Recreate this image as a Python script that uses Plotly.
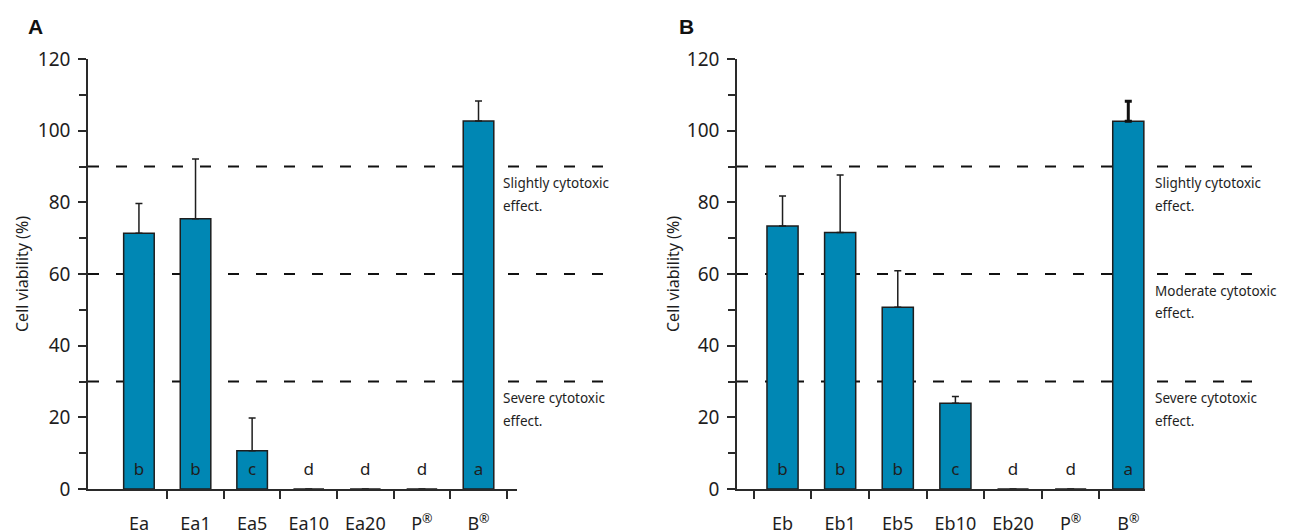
import plotly.graph_objects as go

# ---------------- data ----------------
cats_a = ["Ea", "Ea1", "Ea5", "Ea10", "Ea20", "P<sup>®</sup>", "B<sup>®</sup>"]
vals_a = [71.4, 75.4, 10.7, 0, 0, 0, 102.7]
err_a = [8.3, 16.7, 9.1, 0, 0, 0, 5.6]
letters_a = ["b", "b", "c", "d", "d", "d", "a"]

cats_b = ["Eb", "Eb1", "Eb5", "Eb10", "Eb20", "P<sup>®</sup>", "B<sup>®</sup>"]
vals_b = [73.4, 71.6, 50.7, 23.9, 0, 0, 102.6]
err_b = [8.4, 16.0, 10.2, 1.9, 0, 0, 5.6]
letters_b = ["b", "b", "b", "c", "d", "d", "a"]

levels_a = [90, 60, 30]
labels_a = [["Slightly cytotoxic", "effect."], None, ["Severe cytotoxic", "effect."]]
levels_b = [90, 60, 30]
labels_b = [["Slightly cytotoxic", "effect."], ["Moderate cytotoxic", "effect."],
            ["Severe cytotoxic", "effect."]]

# ---------------- style ----------------
W, H = 1295, 532
OFF = 8  # page body margin
BAR = "#0087b4"
DARK = "#1e1e1e"
AXC = "#2a2a2a"
FONT = "Noto Sans"

def px(x):
    return (x - OFF) / W

def py(y):
    return (H - (y - OFF)) / H

ydom = [py(489), py(59)]

fig = go.Figure()

def add_panel(cats, vals, errs, letters, xa, ya, thick_last=False):
    xs = list(range(len(cats)))
    errs_main = list(errs)
    if thick_last:
        errs_main[-1] = 0
    fig.add_trace(go.Bar(
        x=xs, y=vals, width=0.54, xaxis=xa, yaxis=ya,
        marker=dict(color=BAR, line=dict(color=DARK, width=1.5)),
        error_y=dict(type="data", array=errs_main, arrayminus=[0] * len(errs),
                     symmetric=False, color=DARK, thickness=1.5, width=3.5,
                     visible=True),
        showlegend=False, hoverinfo="skip",
    ))
    if thick_last:
        fig.add_trace(go.Scatter(
            x=[xs[-1]], y=[vals[-1]], mode="markers", xaxis=xa, yaxis=ya,
            marker=dict(size=1, color=BAR, opacity=0),
            error_y=dict(type="data", array=[errs[-1]], arrayminus=[0],
                         symmetric=False, color="#111", thickness=3, width=3.5),
            showlegend=False, hoverinfo="skip",
        ))
    fig.add_trace(go.Scatter(
        x=xs, y=[5] * len(xs), mode="text", text=letters, xaxis=xa, yaxis=ya,
        textfont=dict(family=FONT, size=17, color=DARK),
        showlegend=False, hoverinfo="skip",
    ))

add_panel(cats_a, vals_a, err_a, letters_a, "x", "y")
add_panel(cats_b, vals_b, err_b, letters_b, "x2", "y2", thick_last=True)

def xaxis_cfg(dom, rng, cats, minor_vals, anchor):
    return dict(
        domain=dom, range=rng, anchor=anchor, automargin=False,
        tickmode="array", tickvals=list(range(len(cats))),
        ticktext=cats, ticks="", showline=True, linecolor=AXC, linewidth=1.5,
        showgrid=False, zeroline=False, ticklabelstandoff=18,
        tickfont=dict(family=FONT, size=18, color=DARK),
        minor=dict(tickmode="array", tickvals=minor_vals, ticks="outside",
                   ticklen=8, tickwidth=1.5, tickcolor=AXC, showgrid=False),
        fixedrange=True,
    )

def yaxis_cfg(anchor):
    return dict(
        domain=ydom, range=[0, 120], anchor=anchor, automargin=False,
        tickmode="linear", tick0=0,
        dtick=20, ticks="outside", ticklen=8, tickwidth=1.5, tickcolor=AXC,
        showline=True, linecolor=AXC, linewidth=1.5, showgrid=False,
        zeroline=False, ticklabelstandoff=4,
        tickfont=dict(family=FONT, size=19, color=DARK),
        minor=dict(tick0=0, dtick=10, ticks="outside", ticklen=7, tickwidth=1.5,
                   tickcolor=AXC, showgrid=False),
        fixedrange=True,
    )

fig.update_layout(
    width=W, height=H, margin=dict(l=0, r=0, t=0, b=0, pad=0, autoexpand=False),
    paper_bgcolor="white", plot_bgcolor="white",
    xaxis=xaxis_cfg([px(88), px(517)], [-0.9, 6.68], cats_a,
                    [0.5, 1.5, 2.5, 3.5, 4.5, 5.5, 6.5], "y"),
    yaxis=yaxis_cfg("x"),
    xaxis2=xaxis_cfg([px(737), px(1145)], [-0.79, 6.29], cats_b,
                     [-0.5, 0.5, 1.5, 2.5, 3.5, 4.5, 5.5], "y2"),
    yaxis2=yaxis_cfg("x2"),
    bargap=0.4,
)

shapes = []
annotations = []

def add_levels(levels, labels, x0, x1, xtext, yref):
    for lv, lab in zip(levels, labels):
        shapes.append(dict(type="line", xref="paper", yref=yref, x0=px(x0), x1=px(x1),
                           y0=lv, y1=lv, line=dict(color="#111", width=2, dash="11px,17px"),
                           layer="below"))
        if lab:
            for i, line in enumerate(lab):
                annotations.append(dict(
                    text=line, xref="paper", yref=yref, x=px(xtext),
                    y=lv - 4.7 - 6.3 * i, xanchor="left", yanchor="middle",
                    showarrow=False, font=dict(family=FONT, size=13.5, color=DARK)))

add_levels(levels_a, labels_a, 88, 604, 501, "y")
add_levels(levels_b, labels_b, 737, 1256, 1153, "y2")

for xt, yref in [(22, "y"), (673, "y2")]:
    annotations.append(dict(text="Cell viability (%)", xref="paper", yref=yref,
                            x=px(xt), y=60, textangle=-90, showarrow=False,
                            xanchor="center", yanchor="middle",
                            font=dict(family=FONT, size=16, color=DARK)))

for t, xt in [("A", 35), ("B", 686)]:
    annotations.append(dict(text="<b>%s</b>" % t, xref="paper", yref="paper",
                            x=px(xt), y=py(27), showarrow=False,
                            xanchor="center", yanchor="middle",
                            font=dict(family="Liberation Sans", size=21, color="#111")))

fig.update_layout(shapes=shapes, annotations=annotations)
fig.write_html("out.html")
